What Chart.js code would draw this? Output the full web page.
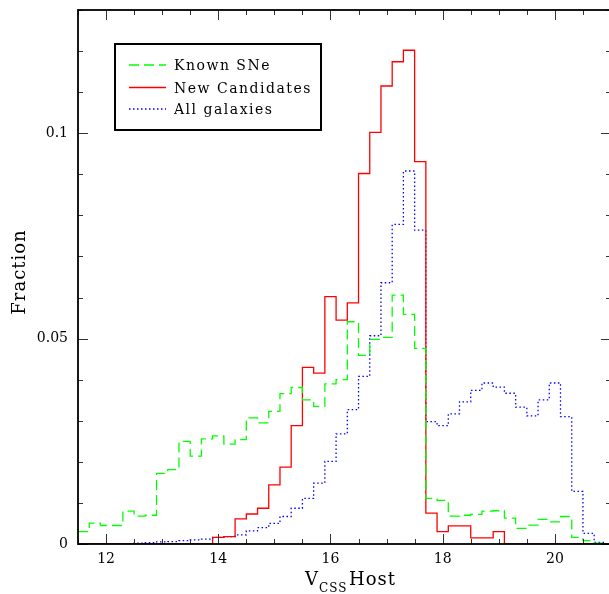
<!DOCTYPE html>
<html>
<head>
<meta charset="utf-8">
<script src="https://cdn.jsdelivr.net/npm/chart.js@4.4.0/dist/chart.umd.min.js"></script>
<style>
  html, body { margin: 0; padding: 0; background: #fff; overflow: hidden; }
  #wrap { width: 613px; height: 594px; }
</style>
</head>
<body>
<div id="wrap"><canvas id="my-chart" width="613" height="594"></canvas></div>
<script>
'use strict';

// ******** DATA *******

// histogram bins: left edge of first bin + width (V_CSS magnitude)
const binStart = 11.5;
const binWidth = 0.2;

const seriesLabels = ['Known SNe', 'New Candidates', 'All galaxies'];

// fraction per bin, bins 11.5-11.7, 11.7-11.9, ... 20.9-21.1
const knownSNe = [
  0.0030, 0.0051, 0.0045, 0.0045, 0.0080, 0.0068, 0.0070, 0.0172, 0.0181, 0.0250,
  0.0214, 0.0256, 0.0263, 0.0243, 0.0254, 0.0307, 0.0295, 0.0323, 0.0366, 0.0381,
  0.0351, 0.0335, 0.0390, 0.0400, 0.0541, 0.0459, 0.0498, 0.0503, 0.0606, 0.0559,
  0.0476, 0.0111, 0.0106, 0.0068, 0.0070, 0.0072, 0.0080, 0.0081, 0.0063, 0.0038,
  0.0046, 0.0060, 0.0054, 0.0067, 0.0016, 0.0008, 0.0002, 0.0000
];

const newCandidates = [
  0, 0, 0, 0, 0, 0, 0, 0, 0, 0,
  0, 0, 0.0016, 0.0018, 0.0061, 0.0073, 0.0087, 0.0144, 0.0187, 0.0288,
  0.0430, 0.0416, 0.0602, 0.0545, 0.0587, 0.0902, 0.1002, 0.1115, 0.1174, 0.1202,
  0.0931, 0.0075, 0.0030, 0.0044, 0.0044, 0.0015, 0.0015, 0.0030, 0, 0,
  0, 0, 0, 0, 0, 0, 0, 0
];

const allGalaxies = [
  0, 0, 0, 0, 0.0001, 0.0002, 0.0003, 0.0005, 0.0006, 0.0008,
  0.0010, 0.0012, 0.0016, 0.0018, 0.0022, 0.0032, 0.0040, 0.0050, 0.0067, 0.0087,
  0.0111, 0.0148, 0.0201, 0.0268, 0.0327, 0.0408, 0.0507, 0.0636, 0.0778, 0.0908,
  0.0764, 0.0298, 0.0288, 0.0317, 0.0346, 0.0374, 0.0392, 0.0382, 0.0367, 0.0333,
  0.0312, 0.0351, 0.0392, 0.0310, 0.0128, 0.0026, 0.0004, 0.0000
];

const xTicks = [12, 14, 16, 18, 20];
const yTicks = [0, 0.05, 0.1];

// ******** HELPERS *******

const FONT = '"DejaVu Serif", "Liberation Serif", serif';

// turn bin values into points at the left edges (+ closing right edge)
function toSteps(values) {
  let pts = [];
  for (let i = 0; i < values.length; i++) {
    pts.push({ x: Math.round((binStart + i * binWidth) * 10) / 10, y: values[i] });
  }
  pts.push({ x: Math.round((binStart + values.length * binWidth) * 10) / 10, y: values[values.length - 1] });
  return pts;
}

// no extra room for half-labels at the ends of the axes
function noEdgePadding(scale) {
  scale.paddingTop = 0;
  scale.paddingBottom = 0;
  scale.paddingLeft = 0;
  scale.paddingRight = 0;
}

// frame, inward ticks on all four sides, legend box, axis titles
const framePlugin = {
  id: 'frameAndTicks',
  afterDatasetsDraw(chart) {
    const ctx = chart.ctx;
    const a = chart.chartArea;
    const xs = chart.scales.x;
    const ys = chart.scales.y;
    ctx.save();

    // ticks
    ctx.strokeStyle = '#333';
    ctx.lineWidth = 1;
    ctx.beginPath();
    for (let v = 11.5; v <= 21.0001; v += 0.5) {
      let px = Math.round(xs.getPixelForValue(v)) + 0.5;
      let len = Math.abs(v / 2 - Math.round(v / 2)) < 1e-6 ? 10 : 5;
      ctx.moveTo(px, a.bottom); ctx.lineTo(px, a.bottom - len);
      ctx.moveTo(px, a.top); ctx.lineTo(px, a.top + len);
    }
    for (let k = 0; k <= 13; k++) {
      let py = Math.round(ys.getPixelForValue(k * 0.01)) + 0.5;
      let len = k % 5 === 0 ? 10 : 5;
      ctx.moveTo(a.left, py); ctx.lineTo(a.left + len, py);
      ctx.moveTo(a.right, py); ctx.lineTo(a.right - len, py);
    }
    ctx.stroke();

    // frame
    ctx.strokeStyle = '#000';
    ctx.lineWidth = 1.8;
    ctx.strokeRect(a.left, a.top, a.right - a.left, a.bottom - a.top);

    // legend
    const lx = 115, ly = 44, lw = 206, lh = 86;
    ctx.fillStyle = '#fff';
    ctx.fillRect(lx, ly, lw, lh);
    ctx.lineWidth = 2;
    ctx.strokeStyle = '#000';
    ctx.strokeRect(lx, ly, lw, lh);
    const rows = [65, 87.5, 109];
    chart.data.datasets.forEach(function (ds, i) {
      ctx.beginPath();
      ctx.strokeStyle = ds.borderColor;
      ctx.lineWidth = ds.borderWidth;
      ctx.setLineDash(ds.borderDash || []);
      ctx.moveTo(129, rows[i]);
      ctx.lineTo(166, rows[i]);
      ctx.stroke();
      ctx.setLineDash([]);
      ctx.fillStyle = '#000';
      ctx.font = '14px ' + FONT;
      ctx.letterSpacing = '1.5px';
      ctx.textBaseline = 'alphabetic';
      ctx.textAlign = 'left';
      ctx.fillText(ds.label, 174, rows[i] + 5);
    });

    // x title: V_CSS Host
    ctx.fillStyle = '#000';
    ctx.letterSpacing = '1px';
    ctx.font = '18px ' + FONT;
    ctx.fillText('V', 305, 585);
    ctx.font = '12px ' + FONT;
    ctx.fillText('CSS', 319, 592);
    ctx.font = '18px ' + FONT;
    ctx.fillText('Host', 349, 585);

    // y title
    ctx.translate(25, 272);
    ctx.rotate(-Math.PI / 2);
    ctx.textAlign = 'center';
    ctx.font = '18px ' + FONT;
    ctx.fillText('Fraction', 0, 0);
    ctx.restore();
  }
};

// ******** CHART *******

let ctx = document.getElementById('my-chart');

let chartObject = {
  type: 'line',
  data: {
    datasets: [{
      label: seriesLabels[0],
      data: toSteps(knownSNe),
      borderColor: '#00ff00',
      borderWidth: 1.3,
      borderDash: [10, 5]
    },
    {
      label: seriesLabels[1],
      data: toSteps(newCandidates),
      borderColor: '#ff0000',
      borderWidth: 1.3
    },
    {
      label: seriesLabels[2],
      data: toSteps(allGalaxies),
      borderColor: '#0000ff',
      borderWidth: 1.3,
      borderDash: [1.5, 2.5]
    }]
  },
  options: {
    responsive: false,
    animation: false,
    events: [],
    layout: { padding: { left: 0, right: 2, top: 10, bottom: 0 } },
    elements: {
      line: { stepped: 'before', fill: false, tension: 0 },
      point: { radius: 0 }
    },
    plugins: {
      legend: { display: false },
      tooltip: { enabled: false }
    },
    scales: {
      x: {
        type: 'linear',
        min: 11.5,
        max: 21,
        grid: { display: false, drawTicks: false },
        border: { display: false },
        afterFit: function (scale) { scale.height = 50; noEdgePadding(scale); },
        afterBuildTicks: function (scale) {
          scale.ticks = xTicks.map(function (v) { return { value: v }; });
        },
        ticks: {
          padding: 7,
          color: '#000',
          maxRotation: 0,
          font: { family: FONT, size: 14 },
          callback: function (v) { return String(v); }
        }
      },
      y: {
        min: 0,
        max: 0.13,
        grid: { display: false, drawTicks: false },
        border: { display: false },
        afterFit: function (scale) { scale.width = 78; noEdgePadding(scale); },
        afterBuildTicks: function (scale) {
          scale.ticks = yTicks.map(function (v) { return { value: v }; });
        },
        ticks: {
          padding: 10,
          color: '#000',
          font: { family: FONT, size: 14 },
          callback: function (v) { return String(v); }
        }
      }
    }
  },
  plugins: [framePlugin]
};

const myChart = new Chart(ctx, chartObject);
</script>
</body>
</html>
